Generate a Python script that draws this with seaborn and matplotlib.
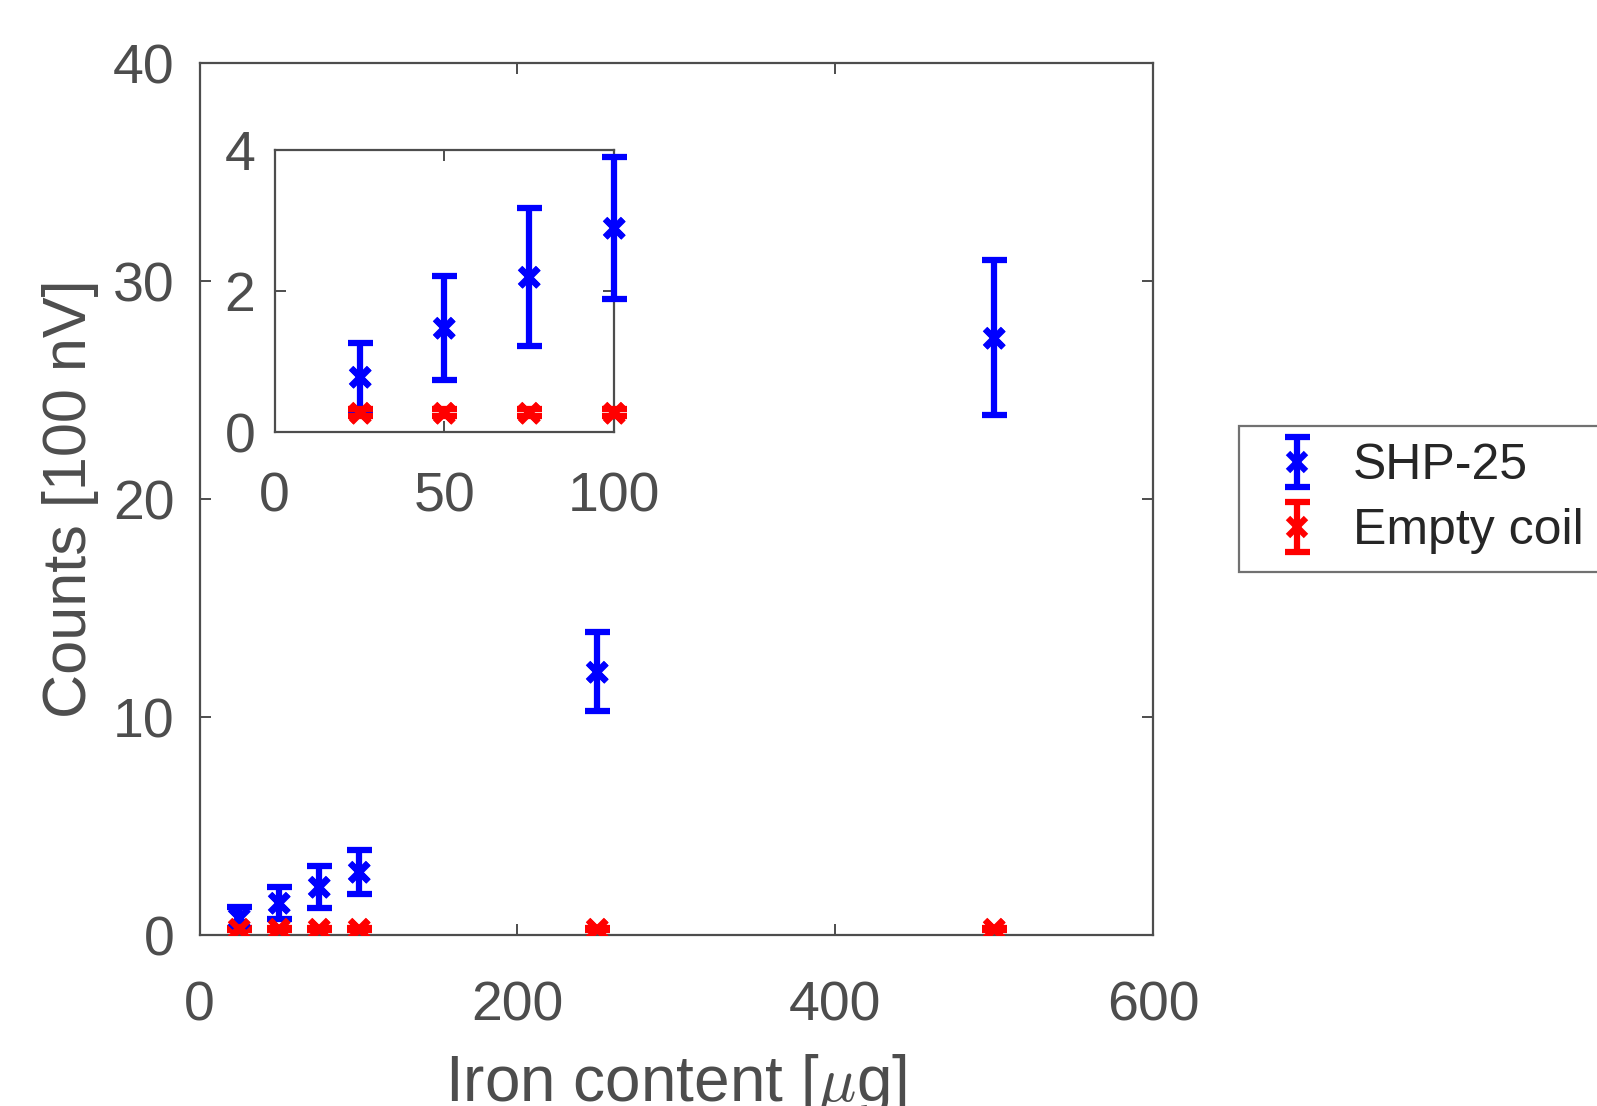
import matplotlib
matplotlib.use("Agg")
import matplotlib.pyplot as plt
import numpy as np
import pandas as pd
import seaborn as sns

# iron content [ug]
iron = [25, 50, 75, 100, 250, 500]
shp25 = [0.78, 1.48, 2.20, 2.90, 12.08, 27.4]
shp25_err = [0.49, 0.74, 0.98, 1.01, 1.8, 3.55]
empty = [0.28, 0.28, 0.28, 0.28, 0.28, 0.28]
empty_err = [0.05, 0.05, 0.05, 0.05, 0.05, 0.05]

inset_n = 4  # first four points in the zoomed panel

BLUE = "#0000ff"
RED = "#ff0000"
AXC = "#4d4d4d"


def draw(ax, df):
    handles = []
    for col, err, color, label in [("shp", "shp_err", BLUE, "SHP-25"),
                                   ("empty", "empty_err", RED, "Empty coil")]:
        h = ax.errorbar(df["iron"], df[col], yerr=df[err], fmt="x", color=color,
                        ms=13, mew=4.5, elinewidth=4.5, capsize=9, capthick=4.5,
                        zorder=3, label=label)
        sns.scatterplot(x="iron", y=col, data=df, ax=ax, marker="x", s=170,
                        color=color, linewidth=4.5, zorder=4, legend=False)
        handles.append(h)
    ax.set_xlabel("")
    ax.set_ylabel("")
    return handles


def style(ax, size, xpad, ypad):
    for s in ax.spines.values():
        s.set_color(AXC)
        s.set_linewidth(1.6)
    ax.tick_params(direction="in", length=8, width=1.4, colors=AXC,
                   labelsize=size, top=True, right=True, bottom=True, left=True)
    ax.tick_params(axis="x", pad=xpad)
    ax.tick_params(axis="y", pad=ypad)


def main():
    sns.set_style("white")
    plt.rcParams["font.family"] = ["Liberation Sans", "DejaVu Sans"]
    plt.rcParams["mathtext.fontset"] = "cm"

    df = pd.DataFrame({"iron": iron, "shp": shp25, "shp_err": shp25_err,
                       "empty": empty, "empty_err": empty_err})

    fig = plt.figure(figsize=(15.97, 11.06), dpi=100)
    ax = fig.add_axes([0.125, 0.1546, 0.597, 0.7884])
    handles = draw(ax, df)
    ax.set_xlim(0, 600)
    ax.set_ylim(0, 40)
    ax.set_xticks([0, 200, 400, 600])
    ax.set_yticks([0, 10, 20, 30, 40])
    style(ax, 40, 33, 18)
    ax.set_xlabel(r"Iron content [$\mu$g]", fontsize=46, color=AXC, labelpad=14)
    ax.set_ylabel("Counts [100 nV]", fontsize=44, color=AXC, labelpad=10)

    leg = fig.legend(handles=handles, labels=["SHP-25", "Empty coil"],
                     loc="upper left", bbox_to_anchor=(0.776, 0.615),
                     fontsize=36, frameon=True, fancybox=False, edgecolor=AXC,
                     handlelength=1.6, handletextpad=0.32, borderpad=0.35,
                     labelspacing=0.38, borderaxespad=0)
    leg.get_frame().set_linewidth(1.6)
    for t in leg.get_texts():
        t.set_color("#262626")

    ins = fig.add_axes([0.172, 0.609, 0.2125, 0.255])
    draw(ins, df.iloc[:inset_n])
    for c in ins.get_children():
        try:
            c.set_clip_on(False)
        except AttributeError:
            pass
    ins.set_xlim(0, 100)
    ins.set_ylim(0, 4)
    ins.set_xticks([0, 50, 100])
    ins.set_yticks([0, 2, 4])
    style(ins, 40, 28, 14)

    plt.savefig("out.png", dpi=100)
    plt.close()


if __name__ == "__main__":
    main()
